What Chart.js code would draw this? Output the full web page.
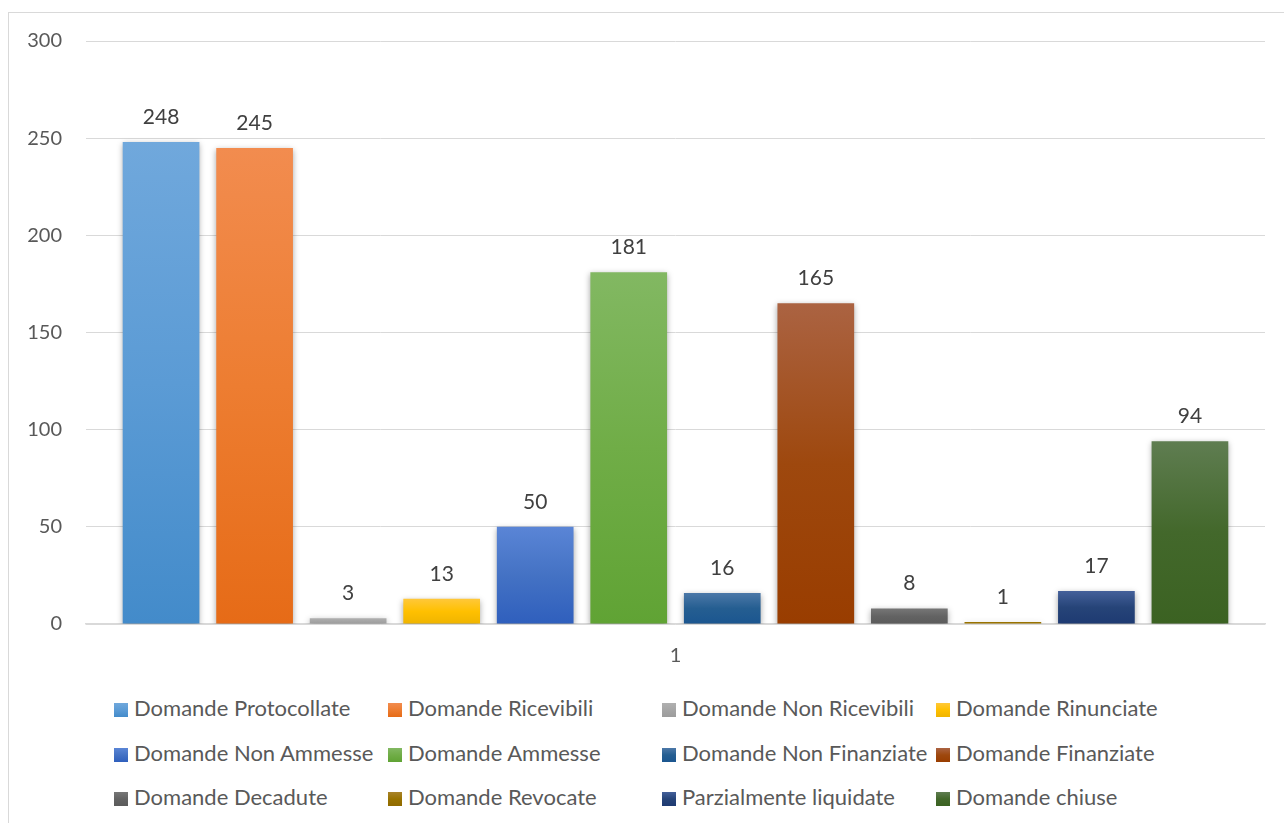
<!DOCTYPE html>
<html>
<head>
<meta charset="utf-8">
<script src="https://cdn.jsdelivr.net/npm/chart.js@4.4.1/dist/chart.umd.min.js"></script>
<style>
  html, body { margin: 0; padding: 0; background: #fff; overflow: hidden; }
  #frame { position: absolute; left: 8px; top: 12px; width: 1300px; height: 830px; border: 1px solid #d9d9d9; box-sizing: border-box; }
  #wrap { position: absolute; left: 0; top: 0; width: 1284px; height: 688px; }
  #legend { position: absolute; left: 114px; top: 694px; font-family: Lato, "Open Sans", sans-serif; font-size: 22px; color: #595959; }
  .item { position: absolute; white-space: nowrap; height: 28px; line-height: 28px; }
  .box { display: inline-block; width: 14px; height: 14px; vertical-align: -1px; margin-right: 6px; }
</style>
</head>
<body>
<div id="frame"></div>
<div id="wrap"><canvas id="chart"></canvas></div>
<div id="legend"></div>
<script>
// categorie e valori
const categories = ["1"];
const seriesNames = [
    "Domande Protocollate", "Domande Ricevibili", "Domande Non Ricevibili", "Domande Rinunciate",
    "Domande Non Ammesse", "Domande Ammesse", "Domande Non Finanziate", "Domande Finanziate",
    "Domande Decadute", "Domande Revocate", "Parzialmente liquidate", "Domande chiuse"
];
const seriesValues = [248, 245, 3, 13, 50, 181, 16, 165, 8, 1, 17, 94];
const yTicks = [0, 50, 100, 150, 200, 250, 300];

// colori: [chiaro in alto, base, scuro in basso]
const seriesColors = [
    ["#70a8dc", "#5b9bd5", "#438bca"],
    ["#f28c4f", "#ed7d31", "#e66b17"],
    ["#b0b0b0", "#a5a5a5", "#9c9c9c"],
    ["#ffc83a", "#ffc000", "#efb400"],
    ["#5a85d6", "#4472c4", "#2f5fbd"],
    ["#82b862", "#70ad47", "#60a334"],
    ["#4c78a8", "#255e91", "#1b5690"],
    ["#ab6342", "#9e480e", "#993d00"],
    ["#777777", "#636363", "#5b5b5b"],
    ["#a8832a", "#997300", "#8f6a00"],
    ["#44609a", "#264478", "#1e3a72"],
    ["#5f7d51", "#43682b", "#3b6222"]
];

const FONT = "Lato, 'Open Sans', sans-serif";

function barGradient(ctx, cols) {
    const chart = ctx.chart;
    if (ctx.type !== "data" || !chart.chartArea) return cols[1];
    const y = chart.scales.y;
    const top = y.getPixelForValue(ctx.raw);
    const bot = y.getPixelForValue(0);
    if (bot - top < 2) return cols[1];
    const g = chart.ctx.createLinearGradient(0, top, 0, bot);
    g.addColorStop(0, cols[0]);
    g.addColorStop(0.5, cols[1]);
    g.addColorStop(1, cols[2]);
    return g;
}

// ombra delle barre
const shadowPlugin = {
    id: "barShadow",
    beforeDatasetDraw(chart) {
        const c = chart.ctx;
        c.save();
        c.shadowColor = "rgba(0,0,0,0.35)";
        c.shadowBlur = 6;
        c.shadowOffsetX = 0;
        c.shadowOffsetY = 2;
    },
    afterDatasetDraw(chart) {
        chart.ctx.restore();
    }
};

// etichette dei valori sopra le barre
const valueLabels = {
    id: "valueLabels",
    afterDatasetsDraw(chart) {
        const c = chart.ctx;
        c.save();
        c.font = "21px " + FONT;
        c.fillStyle = "#404040";
        c.textAlign = "center";
        c.textBaseline = "middle";
        chart.data.datasets.forEach((ds, i) => {
            const meta = chart.getDatasetMeta(i);
            meta.data.forEach((bar, j) => {
                c.fillText(String(ds.data[j]), bar.x, bar.y - 25);
            });
        });
        c.restore();
    }
};

const datasets = seriesNames.map((name, i) => ({
    label: name,
    data: [seriesValues[i]],
    backgroundColor: ctx => barGradient(ctx, seriesColors[i]),
    borderWidth: 0
}));

new Chart(document.getElementById("chart"), {
    type: "bar",
    data: { labels: categories, datasets: datasets },
    options: {
        responsive: true,
        maintainAspectRatio: false,
        animation: false,
        datasets: { bar: { categoryPercentage: 0.952, barPercentage: 0.82 } },
        layout: { padding: { top: 41, right: 19, bottom: 8, left: 0 } },
        plugins: { legend: { display: false }, tooltip: { enabled: false } },
        scales: {
            x: {
                grid: { display: false },
                border: { display: true, color: "#d9d9d9", width: 1.5 },
                ticks: { color: "#595959", font: { family: FONT, size: 20 }, padding: 12 }
            },
            y: {
                min: 0,
                max: 300,
                afterBuildTicks: axis => { axis.ticks = yTicks.map(v => ({ value: v })); },
                afterFit: axis => { axis.width = 86; },
                grid: { color: "#d9d9d9", lineWidth: 1, drawTicks: false },
                border: { display: false },
                ticks: { color: "#595959", font: { family: FONT, size: 20 }, padding: 24 }
            }
        }
    },
    plugins: [shadowPlugin, valueLabels]
});

// legenda a griglia (4 colonne)
const legend = document.getElementById("legend");
seriesNames.forEach((name, i) => {
    const item = document.createElement("div");
    item.className = "item";
    item.style.left = (i % 4) * 274 + "px";
    item.style.top = Math.floor(i / 4) * 44.5 + "px";
    const c = seriesColors[i];
    item.innerHTML = `<span class="box" style="background:linear-gradient(${c[0]},${c[1]} 50%,${c[2]})"></span>${name}`;
    legend.appendChild(item);
});
</script>
</body>
</html>
